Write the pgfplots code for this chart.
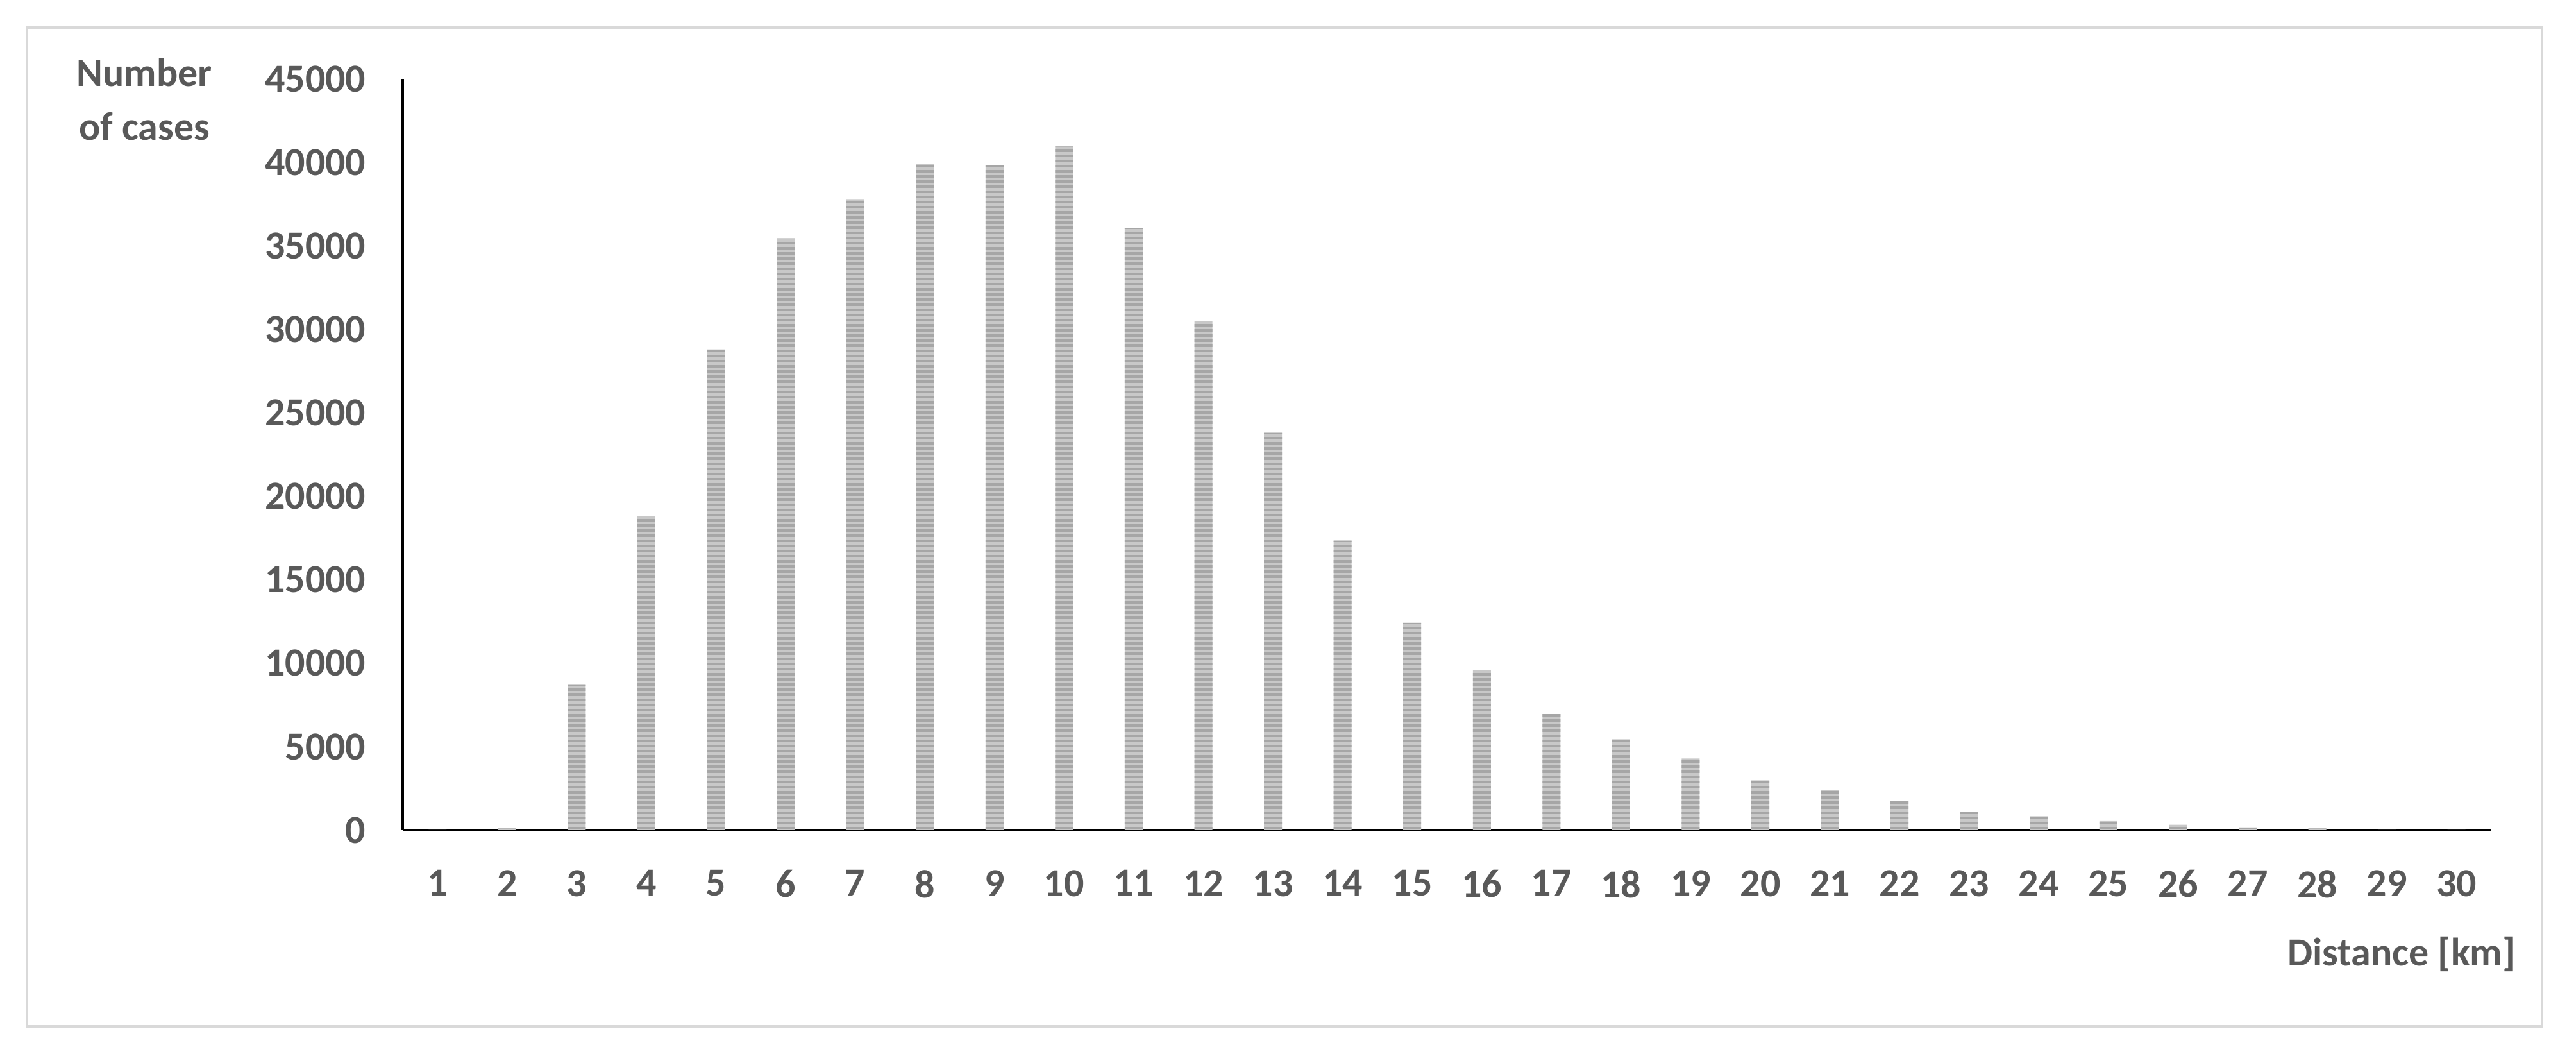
\documentclass[border=0pt]{standalone}
\usepackage{fontspec}
\setmainfont{Carlito}
\usepackage{pgfplots}
\pgfplotsset{compat=1.18}
\usetikzlibrary{patterns.meta}
\definecolor{txt}{HTML}{595959}
\definecolor{barlight}{HTML}{C8C8C8}
\definecolor{bardark}{HTML}{A6A6A6}
\definecolor{framegray}{HTML}{D9D9D9}

\begin{document}
\begin{tikzpicture}
\begin{axis}[
  scale only axis,
  width=651.4pt, height=234.2pt,
  xmin=0.5, xmax=30.5, ymin=0, ymax=45000,
  axis x line=bottom, axis y line=left,
  axis line style={-, black, line width=0.9pt},
  xtick={1,...,30}, ytick={0,5000,...,45000},
  major tick length=0pt,
  scaled y ticks=false,
  /pgf/number format/1000 sep={},
  /pgf/number format/assume math mode=true,
  ticklabel style={font=\fontsize{12.4}{15}\selectfont\bfseries, text=txt},
  yticklabel style={xshift=-8pt},
  xticklabel style={yshift=-9pt},
  ybar, bar width=5.6pt,
  clip=false,
]
\addplot[draw=none, fill=barlight,
  postaction={pattern={Lines[angle=0,distance=1.6pt,line width=0.8pt]}, pattern color=bardark}]
  coordinates {
  (1,0) (2,100) (3,8700) (4,18800) (5,28800) (6,35450) (7,37800) (8,39900)
  (9,39850) (10,40950) (11,36050) (12,30500) (13,23800) (14,17350) (15,12420)
  (16,9570) (17,6950) (18,5440) (19,4290) (20,2980) (21,2400) (22,1730)
  (23,1090) (24,830) (25,540) (26,320) (27,160) (28,100) (29,0) (30,0)
};
\coordinate (O) at (rel axis cs:0,0);
\node[align=center, font=\fontsize{12.4}{16.8}\selectfont\bfseries, text=txt,
  xshift=-80.6pt, yshift=-6.4pt] at (rel axis cs:0,1) {Number\\of cases};
\node[anchor=east, font=\fontsize{12.4}{15}\selectfont\bfseries, text=txt,
  xshift=11pt, yshift=-38.6pt] at (rel axis cs:1,0) {Distance [km]};
\end{axis}
\draw[framegray, line width=0.8pt] ([shift={(-117.2pt,-61.2pt)}]O) rectangle ([shift={(667.2pt,250.2pt)}]O);
\pgfresetboundingbox
\path[use as bounding box] ([shift={(-125.6pt,-69.8pt)}]O) rectangle ([shift={(677.8pt,258.8pt)}]O);
\end{tikzpicture}
\end{document}
